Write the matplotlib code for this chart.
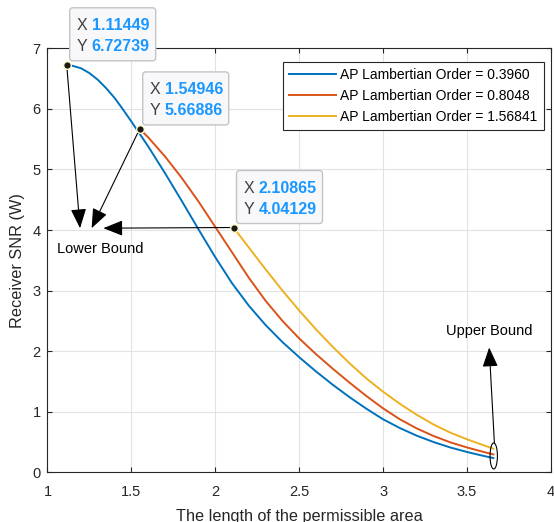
import matplotlib as mpl
mpl.use('Agg')
import matplotlib.pyplot as plt
from matplotlib.patches import FancyBboxPatch, Ellipse
from matplotlib.transforms import Affine2D

plt.rcParams['font.family'] = ['Liberation Sans', 'DejaVu Sans']

# SNR curves for the three AP Lambertian orders
blue_x = [1.11449, 1.15, 1.2, 1.25, 1.3, 1.35, 1.4, 1.45, 1.5, 1.6, 1.7, 1.8, 1.9, 2.0,
          2.1, 2.2, 2.3, 2.4, 2.5, 2.6, 2.7, 2.8, 2.9, 3.0, 3.1, 3.2, 3.3, 3.4, 3.5, 3.6, 3.657]
blue_y = [6.72739, 6.71, 6.67, 6.59, 6.48, 6.34, 6.18, 5.99, 5.79, 5.38, 4.94, 4.48, 4.01, 3.55,
          3.12, 2.75, 2.43, 2.15, 1.90, 1.665, 1.445, 1.24, 1.05, 0.875, 0.73, 0.605, 0.50, 0.41,
          0.335, 0.27, 0.235]

red_x = [1.54946, 1.6, 1.7, 1.8, 1.9, 2.0, 2.1, 2.2, 2.3, 2.4, 2.5, 2.6, 2.7, 2.8, 2.9,
         3.0, 3.1, 3.2, 3.3, 3.4, 3.5, 3.6, 3.657]
red_y = [5.66886, 5.53, 5.215, 4.86, 4.47, 4.05, 3.63, 3.21, 2.83, 2.50, 2.21, 1.95, 1.71, 1.48,
         1.26, 1.055, 0.875, 0.725, 0.60, 0.495, 0.41, 0.335, 0.295]

yellow_x = [2.10865, 2.2, 2.3, 2.4, 2.5, 2.6, 2.7, 2.8, 2.9, 3.0, 3.1, 3.2, 3.3, 3.4, 3.5, 3.6, 3.657]
yellow_y = [4.04129, 3.71, 3.35, 3.00, 2.67, 2.36, 2.07, 1.80, 1.55, 1.33, 1.13, 0.95, 0.79,
            0.655, 0.545, 0.445, 0.39]

labels = ['AP Lambertian Order = 0.3960', 'AP Lambertian Order = 0.8048', 'AP Lambertian Order = 1.56841']
colors = ['#0072BD', '#D95319', '#EDB120']

fig = plt.figure(figsize=(5.54, 5.22), dpi=100)
ax = fig.add_axes([0.0857, 0.0952, 0.9088, 0.8123])

for xs, ys, c, lab in zip([blue_x, red_x, yellow_x], [blue_y, red_y, yellow_y], colors, labels):
    ax.plot(xs, ys, color=c, lw=1.4, label=lab, zorder=3)

ax.set_xlim(1, 4)
ax.set_ylim(0, 7)
ax.set_xticks([1, 1.5, 2, 2.5, 3, 3.5, 4])
ax.set_xticklabels(['1', '1.5', '2', '2.5', '3', '3.5', '4'])
ax.set_yticks(range(8))
ax.grid(True, color='#e2e2e2', lw=0.8)
ax.set_axisbelow(True)
ax.tick_params(direction='in', length=3.5, width=0.8, top=True, right=True,
               labelsize=10.5, colors='#262626', labelcolor='#262626')
ax.tick_params(axis='x', pad=9)
ax.tick_params(axis='y', pad=5)
for s in ax.spines.values():
    s.set_color('#262626')
    s.set_linewidth(0.8)
ax.set_xlabel('The length of the permissible area', fontsize=11.7, color='#262626', labelpad=7)
ax.set_ylabel('Receiver SNR (W)', fontsize=11.7, color='#262626', labelpad=5)

leg = ax.legend(loc='upper right', bbox_to_anchor=(0.986, 0.968), borderaxespad=0,
                fontsize=10, fancybox=False, edgecolor='#262626', framealpha=1,
                handlelength=3.4, handletextpad=0.3, labelspacing=0.5, borderpad=0.45)
leg.get_frame().set_linewidth(0.8)

# data tips at the start of each curve
tips = [(blue_x[0], blue_y[0]), (red_x[0], red_y[0]), (yellow_x[0], yellow_y[0])]
fig.canvas.draw()
for tx, ty in tips:
    px, py = ax.transData.transform((tx, ty))
    tr = Affine2D().translate(px, py)
    box = FancyBboxPatch((3, 4), 86, 53, boxstyle='round,pad=0,rounding_size=3',
                         transform=tr, facecolor='#f8f8fb', edgecolor='#c4c4c4',
                         lw=1.0, zorder=6, clip_on=False)
    fig.patches.append(box)
    for dy, name, val in [(35, 'X', tx), (14, 'Y', ty)]:
        fig.text(10, dy, name, transform=tr, fontsize=11.5, color='#404040', zorder=7)
        fig.text(25, dy, f'{val:.5f}', transform=tr, fontsize=11.5, color='#1a98ff',
                 fontweight='bold', zorder=7)
    ax.plot(tx, ty, 'o', ms=5.5, mfc='#1a1a1a', mec='#fffbc8', mew=1.0, zorder=8)

arrow = dict(arrowstyle='-|>,head_length=1.0,head_width=0.4', color='black', lw=0.8,
             shrinkA=0, shrinkB=0, mutation_scale=12)
ax.annotate('', xy=(1.194, 4.03), xytext=tips[0], arrowprops=arrow, zorder=5)
ax.annotate('', xy=(1.263, 4.03), xytext=tips[1], arrowprops=arrow, zorder=5)
ax.annotate('', xy=(1.333, 4.03), xytext=tips[2], arrowprops=arrow, zorder=5)
ax.text(1.057, 3.69, 'Lower Bound', fontsize=10.5, va='center', ha='left', color='black')

ax.add_patch(Ellipse((3.659, 0.27), 0.044, 0.43, fill=False, ec='black', lw=0.8, zorder=5))
ax.annotate('', xy=(3.632, 2.06), xytext=(3.663, 0.48), arrowprops=arrow, zorder=5)
ax.text(3.63, 2.34, 'Upper Bound', fontsize=10.5, va='center', ha='center', color='black')

fig.savefig('out.png', dpi=100)
